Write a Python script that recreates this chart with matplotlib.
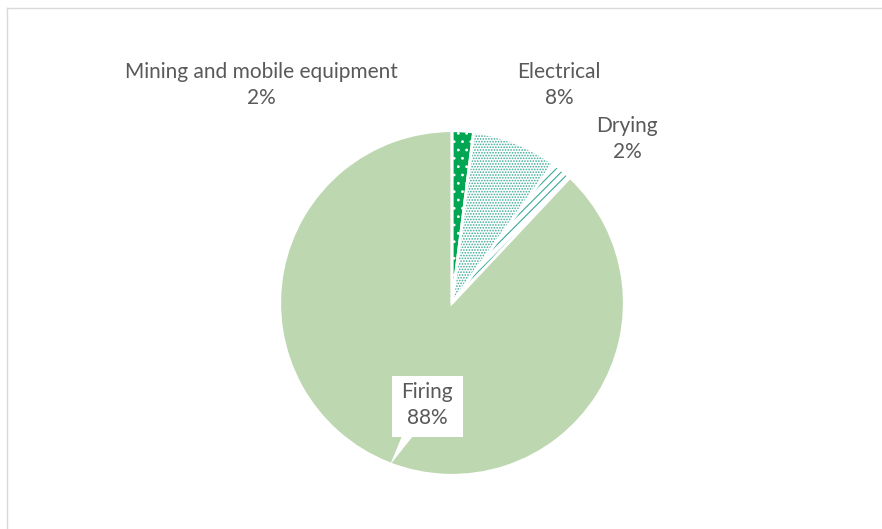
import matplotlib.pyplot as plt
from matplotlib.patches import Polygon, Rectangle

# data
labels = ["Mining and mobile equipment", "Electrical", "Drying", "Firing"]
values = [2, 8, 2, 88]
face_colors = ["#00A651", "#FFFFFF", "#FFFFFF", "#BDD7B0"]
hatch_colors = ["#FFFFFF", "#3BAA97", "#3BAA97", "#BDD7B0"]
hatches = ["..", "......", "////", None]

text_color = "#595959"
plt.rcParams['font.family'] = ['Lato', 'DejaVu Sans']
plt.rcParams['hatch.linewidth'] = 0.8

fig = plt.figure(figsize=(8.82, 5.29), dpi=100)
W, H = 882, 529

# pie placed in pixel box (center 452,303 radius 174)
cx, cy, r = 452, 303, 174
ax = fig.add_axes([(cx - r) / W, (H - cy - r) / H, 2 * r / W, 2 * r / H])
wedges, _ = ax.pie(values, startangle=90, counterclock=False,
                   colors=face_colors, radius=1)
for w, hc, h in zip(wedges, hatch_colors, hatches):
    w.set_edgecolor(hc)
    w.set_linewidth(0)
    if h:
        w.set_hatch(h)
# white separators on top
sep, _ = ax.pie(values, startangle=90, counterclock=False, radius=1,
                wedgeprops=dict(facecolor="none", edgecolor="white", linewidth=2))
ax.set_xlim(-1.01, 1.01)
ax.set_ylim(-1.01, 1.01)
ax.set_aspect("equal")
ax.axis("off")

# overlay in pixel coords for labels and frame
ov = fig.add_axes([0, 0, 1, 1], facecolor="none")
ov.set_xlim(0, W)
ov.set_ylim(H, 0)
ov.axis("off")

# chart frame
ov.plot([7, W, W], [8, 8, 8], color="#D9D9D9", lw=1)
ov.plot([7, 7], [8, H], color="#D9D9D9", lw=1)

# callout box for Firing
ov.add_patch(Rectangle((392, 376), 71, 61, facecolor="white", edgecolor="none"))
ov.add_patch(Polygon([(402, 436), (413, 436), (390, 465)], closed=True,
                     facecolor="white", edgecolor="none"))

label_pos = [(261, 85), (559, 85), (627, 139), (427, 405)]
for lab, v, (x, y) in zip(labels, values, label_pos):
    ov.text(x, y, f"{lab}\n{v}%", ha="center", va="center", fontsize=15,
            color=text_color, linespacing=1.4)

fig.savefig("out.png", dpi=100)
